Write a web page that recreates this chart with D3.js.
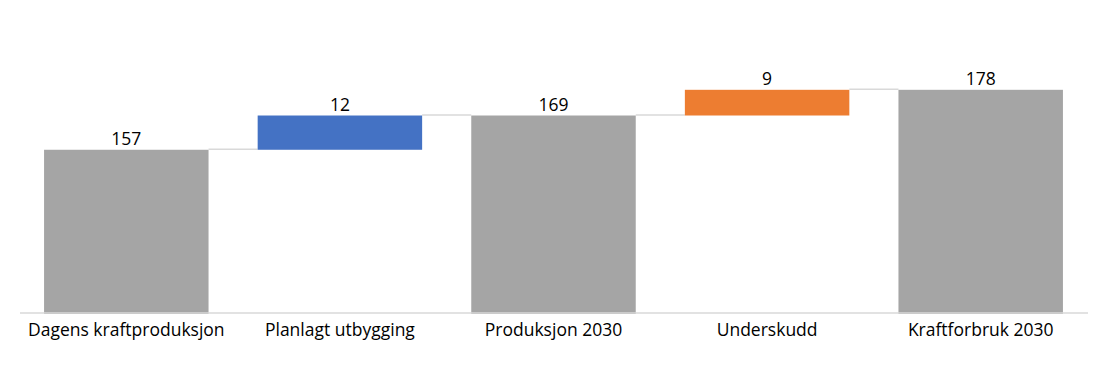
<!DOCTYPE html>
<html lang="no">
<head>
    <meta charset="UTF-8">
    <title>Kraftbalanse 2030</title>
    <script src="https://d3js.org/d3.v7.min.js"></script>
    <style>
        body {
            margin: 0;
            padding: 0;
            background-color: #fff;
            font-family: "Open Sans", Arial, sans-serif;
        }
    </style>
</head>
<body>
    <div id="chart"></div>
    <script>
        // data
        const categories = ["Dagens kraftproduksjon", "Planlagt utbygging", "Produksjon 2030", "Underskudd", "Kraftforbruk 2030"];
        const values = [157, 12, 169, 9, 178];
        const kinds = ["total", "increase", "total", "deficit", "total"];
        const colors = { total: "#a5a5a5", increase: "#4472c4", deficit: "#ed7d31" };

        const width = 1120, height = 372;

        const svg = d3.select("#chart")
            .append("svg")
            .attr("width", width)
            .attr("height", height);

        const x = d3.scaleBand()
            .domain(categories)
            .range([19.5, 1087.5])
            .paddingInner(0.23)
            .paddingOuter(0.115);

        const y = d3.scaleLinear()
            .domain([100, 200])
            .range([312.5, 27]);

        // running start/end of each step
        let running = 0;
        const steps = categories.map((c, i) => {
            let start, end;
            if (kinds[i] === "total") {
                start = y.domain()[0];
                end = values[i];
                running = values[i];
            } else {
                start = running;
                end = running + values[i];
                running = end;
            }
            return { cat: c, kind: kinds[i], value: values[i], start: start, end: end };
        });

        // connector lines
        svg.append("g")
            .selectAll("line")
            .data(steps.slice(0, -1))
            .join("line")
            .attr("x1", (d) => x(d.cat) + x.bandwidth())
            .attr("x2", (d, i) => x(steps[i + 1].cat))
            .attr("y1", (d) => y(d.end) - 0.5)
            .attr("y2", (d) => y(d.end) - 0.5)
            .attr("stroke", "#d9d9d9")
            .attr("stroke-width", 1.5);

        svg.append("g")
            .selectAll("rect")
            .data(steps)
            .join("rect")
            .attr("x", (d) => x(d.cat))
            .attr("width", x.bandwidth())
            .attr("y", (d) => y(Math.max(d.start, d.end)))
            .attr("height", (d) => Math.abs(y(d.start) - y(d.end)) + (d.kind === "total" ? 1.5 : 0))
            .attr("fill", (d) => colors[d.kind]);

        // category axis
        const axis = svg.append("g")
            .attr("transform", `translate(0,${y(100)})`)
            .call(d3.axisBottom(x).tickSize(0).tickPadding(11));
        axis.select(".domain").attr("stroke", "#d9d9d9").attr("stroke-width", 1.3);
        axis.selectAll("text")
            .attr("font-family", "Open Sans, Arial, sans-serif")
            .attr("font-size", 17.5)
            .attr("fill", "#000");

        // value labels
        svg.append("g")
            .selectAll("text")
            .data(steps)
            .join("text")
            .attr("x", (d) => x(d.cat) + x.bandwidth() / 2)
            .attr("y", (d) => y(Math.max(d.start, d.end)) - 5)
            .attr("text-anchor", "middle")
            .attr("font-size", 17.5)
            .attr("fill", "#000")
            .text((d) => d.value);
    </script>
</body>
</html>
